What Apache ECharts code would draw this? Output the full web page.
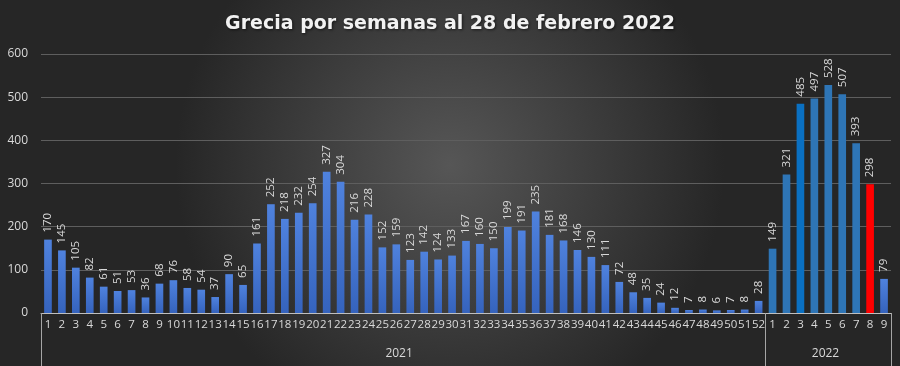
<!DOCTYPE html>
<html>
<head>
<meta charset="utf-8">
<script src="https://cdn.jsdelivr.net/npm/echarts@6/dist/echarts.min.js"></script>
<style>html,body{margin:0;padding:0;background:#333;}#c{width:900px;height:366px;}</style>
</head>
<body>
<div id="c"></div>
<script>
const title = 'Grecia por semanas al 28 de febrero 2022';
const years = ['2021', '2022'];
const values2021 = [170,145,105,82,61,51,53,36,68,76,58,54,37,90,65,161,252,218,232,254,327,304,216,228,152,159,123,142,124,133,167,160,150,199,191,235,181,168,146,130,111,72,48,35,24,12,7,8,6,7,8,28];
const values2022 = [149,321,485,497,528,507,393,298,79];
const yTicks = [0,100,200,300,400,500,600];

const weeks2021 = values2021.map((_, i) => String(i + 1));
const weeks2022 = values2022.map((_, i) => String(i + 1));
const categories = weeks2021.concat(weeks2022);

const grad = () => new echarts.graphic.LinearGradient(0,0,0,1,[{offset:0,color:'#4f82de'},{offset:1,color:'#3563bd'}]);
const data = [];
values2021.forEach(v => data.push({value: v, itemStyle: {color: grad()}}));
values2022.forEach((v, i) => {
  let c = '#2e75b6';
  if (i === 2) c = '#0a70c2';
  if (i === 7) c = '#ff0000';
  if (i === 8) c = grad();
  data.push({value: v, itemStyle: {color: c}});
});

const n1 = values2021.length, n2 = values2022.length, nAll = n1 + n2;

const chart = echarts.init(document.getElementById('c'));
chart.setOption({
  backgroundColor: new echarts.graphic.RadialGradient(0.5, 0.45, 0.75, [
    {offset: 0, color: '#565656'},
    {offset: 1, color: '#262626'}
  ]),
  animation: false,
  title: {
    text: title, left: 'center', top: 10,
    textStyle: {color: '#f2f2f2', fontFamily: 'DejaVu Sans', fontWeight: 'bold', fontSize: 19,
      textShadowColor: 'rgba(0,0,0,0.6)', textShadowBlur: 3, textShadowOffsetX: 1, textShadowOffsetY: 1}
  },
  grid: {left: 41, right: 9, top: 54, bottom: 53, containLabel: false},
  xAxis: [{
    type: 'category', data: categories,
    axisLine: {lineStyle: {color: '#bfbfbf', width: 1}},
    axisTick: {show: false},
    axisLabel: {color: '#d9d9d9', fontFamily: 'Open Sans', fontSize: 11.5, interval: 0, margin: 6}
  }, {
    type: 'value', min: 0, max: nAll, position: 'bottom',
    axisLine: {show: false},
    splitLine: {show: false},
    axisTick: {show: true, customValues: [0, n1, nAll], length: 53, lineStyle: {color: '#a6a6a6'}},
    axisLabel: {
      show: true, customValues: [n1 / 2 - 0.3, n1 + n2 / 2 - 0.2], margin: 35,
      color: '#d9d9d9', fontFamily: 'Open Sans', fontSize: 12,
      formatter: v => (v < n1 ? years[0] : years[1])
    }
  }],
  yAxis: {
    type: 'value', min: yTicks[0], max: yTicks[yTicks.length - 1], interval: 100,
    axisLine: {show: false}, axisTick: {show: false},
    axisLabel: {color: '#d9d9d9', fontFamily: 'Open Sans', fontSize: 12, margin: 13},
    splitLine: {lineStyle: {color: '#5e5e5e', width: 1}}
  },
  series: [{
    type: 'bar', xAxisIndex: 0, data: data, barWidth: '55%',
    label: {
      show: true, position: 'top', rotate: 90, align: 'left', verticalAlign: 'middle', distance: 7,
      color: '#d9d9d9', fontFamily: 'Open Sans', fontSize: 11.5
    }
  }]
});
</script>
</body>
</html>
